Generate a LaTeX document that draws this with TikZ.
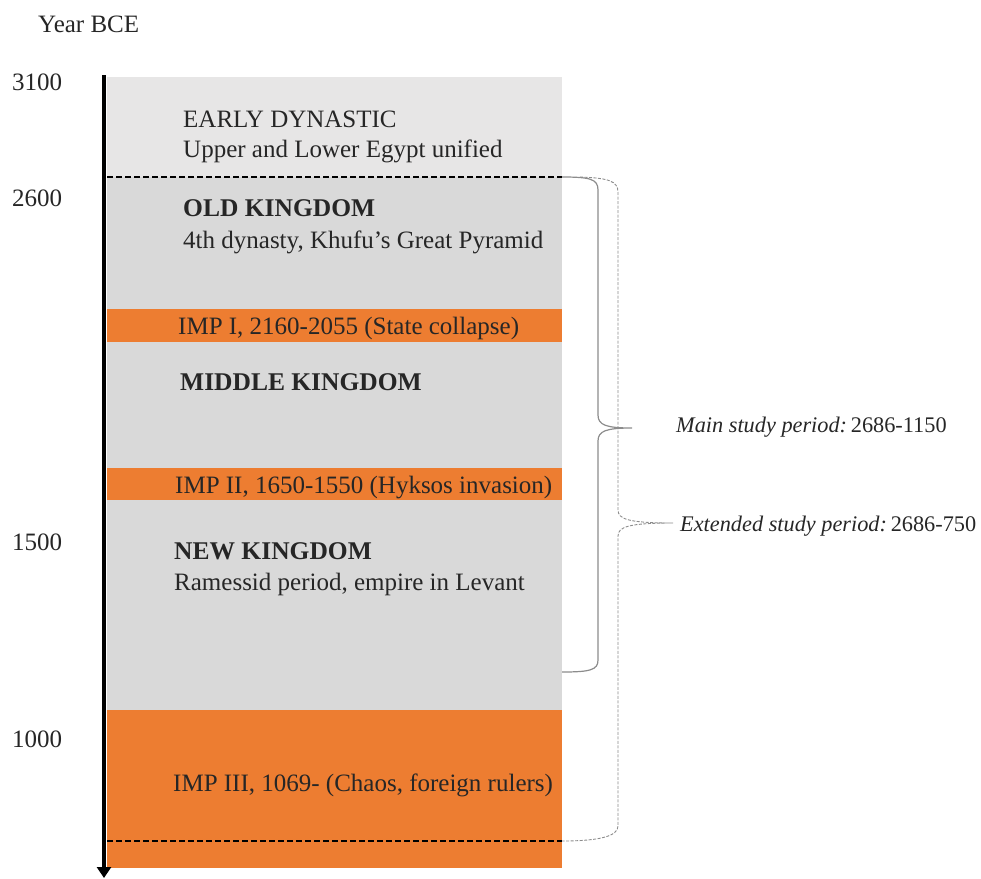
\documentclass[tikz,border=0pt]{standalone}
\usepackage{fontspec}
\setmainfont{Liberation Serif}
\usetikzlibrary{arrows.meta}
\definecolor{lgray}{HTML}{E7E6E6}
\definecolor{mgray}{HTML}{D9D9D9}
\definecolor{orng}{HTML}{ED7D31}
\definecolor{brgray}{HTML}{8C8C8C}
\tikzset{
  txt/.style={anchor=base west, inner sep=0pt, font=\fontsize{25pt}{29pt}\selectfont, text=black!85},
  btxt/.style={txt, font=\fontsize{25.5pt}{29pt}\selectfont\bfseries},
  stxt/.style={txt, font=\fontsize{22.3pt}{26pt}\selectfont},
  sep/.style={draw=black, line width=1.1pt, dash pattern=on 6pt off 3pt},
  bracemain/.style={draw=brgray, line width=1.2pt},
  braceext/.style={draw=brgray, line width=0.9pt, dash pattern=on 3pt off 1.5pt},
}
\begin{document}
\begin{tikzpicture}[x=1pt,y=-1pt]
\useasboundingbox (0,0) rectangle (981,878);
% period boxes
\fill[lgray] (107,77) rectangle (562,177);
\fill[mgray] (107,177) rectangle (562,309);
\fill[orng] (107,309) rectangle (562,342);
\fill[mgray] (107,342) rectangle (562,468);
\fill[orng] (107,468) rectangle (562,500);
\fill[mgray] (107,500) rectangle (562,710);
\fill[orng] (107,710) rectangle (562,868);
% separators
\coordinate (s1a) at (107,177); \coordinate (s1b) at (562,177);
\coordinate (s2a) at (107,841); \coordinate (s2b) at (562,841);
\draw[sep] (s1a) -- (s1b);
\draw[sep] (s2a) -- (s2b);
% axis
\coordinate (axtop) at (104,75); \coordinate (axbot) at (104,878);
\draw[line width=4pt, -{Triangle[width=14pt,length=11pt]}] (axtop) -- (axbot);
% labels
\node[txt] (yr) at (38,32) {Year BCE};
\node[txt] (y3100) at (12,90) {3100};
\node[txt] (y2600) at (12,206) {2600};
\node[txt] (y1500) at (12,550) {1500};
\node[txt] (y1000) at (12,747) {1000};
\node[txt] (ed1) at (183,127) {EARLY DYNASTIC};
\node[txt] (ed2) at (183,157) {Upper and Lower Egypt unified};
\node[btxt] (ok1) at (183,216) {OLD KINGDOM};
\node[txt] (ok2) at (183,248) {4th dynasty, Khufu’s Great Pyramid};
\node[txt] (imp1) at (178,334) {IMP I, 2160-2055 (State collapse)};
\node[btxt] (mk) at (180,390) {MIDDLE KINGDOM};
\node[txt] (imp2) at (175,493) {IMP II, 1650-1550 (Hyksos invasion)};
\node[btxt] (nk1) at (174,559) {NEW KINGDOM};
\node[txt] (nk2) at (174,590) {Ramessid period, empire in Levant};
\node[txt] (imp3) at (173,791) {IMP III, 1069- (Chaos, foreign rulers)};
% braces
\coordinate (mtop) at (562,177); \coordinate (mtip) at (632,428); \coordinate (mbot) at (562,672);
\draw[bracemain] (mtop) .. controls (590,177) and (598,179) .. (598,190) -- (598,415)
  .. controls (598,425) and (606,428) .. (mtip)
  .. controls (606,428) and (598,431) .. (598,441) -- (598,660)
  .. controls (598,670) and (590,672) .. (mbot);
\coordinate (etop) at (580,177); \coordinate (etip) at (673,523); \coordinate (ebot) at (562,841);
\draw[braceext] (etop) .. controls (608,178) and (618,181) .. (618,192) -- (618,510)
  .. controls (618,519) and (628,523) .. (etip)
  .. controls (628,523) and (618,527) .. (618,536) -- (618,826)
  .. controls (618,836) and (600,841) .. (ebot);
\node[stxt] (main) at (676,432) {\textit{Main study period:}\,2686-1150};
\node[stxt] (ext) at (680,531) {\textit{Extended study period:}\,2686-750};
\end{tikzpicture}
\end{document}
